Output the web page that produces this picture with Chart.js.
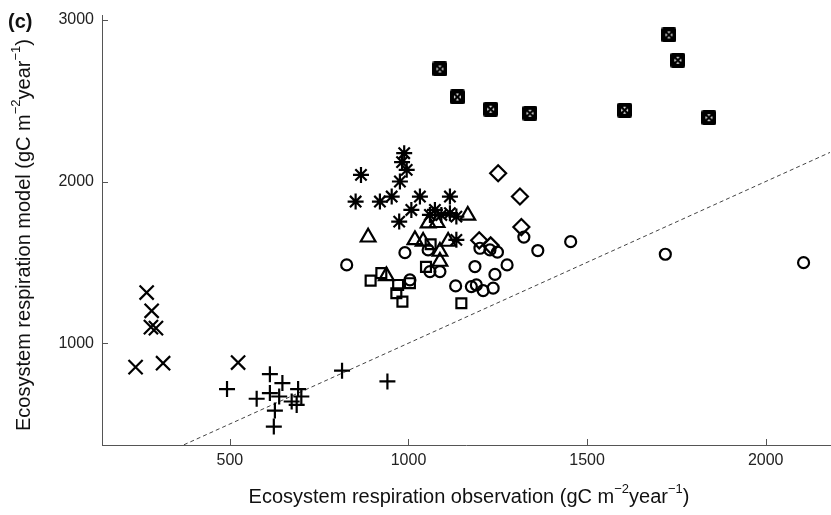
<!DOCTYPE html>
<html>
<head>
<meta charset="utf-8">
<script src="https://cdn.jsdelivr.net/npm/chart.js@4.4.1/dist/chart.umd.min.js"></script>
<style>
  body { margin: 0; background: #fff; }
  canvas { display: block; }
</style>
</head>
<body>
<canvas id="myChart" width="831" height="515"></canvas>
<script>
// values (observation, model)
const boxX = [1088, 1137, 1230, 1340, 1605, 1729, 1754, 1841];
const boxY = [2696, 2523, 2447, 2422, 2441, 2907, 2750, 2395];

const xmarkX = [267, 281, 279, 293, 236, 313, 523];
const xmarkY = [1313, 1200, 1099, 1093, 852, 876, 880];

const plusX = [492, 612, 647, 575, 612, 638, 691, 700, 673, 687, 626, 623, 814, 941];
const plusY = [716, 808, 753, 656, 691, 670, 716, 670, 639, 618, 583, 484, 830, 763];

const starX = [988, 982, 995, 976, 867, 852, 920, 953, 1032, 1116, 1008, 974, 1074, 1092, 1116, 1060, 1134, 1134];
const starY = [2175, 2120, 2072, 2000, 2041, 1876, 1876, 1907, 1907, 1907, 1824, 1752, 1824, 1793, 1804, 1793, 1783, 1639];

const triX = [887, 1166, 1055, 1080, 1018, 1041, 1111, 1088, 1088, 938];
const triY = [1655, 1790, 1742, 1745, 1639, 1629, 1629, 1567, 1505, 1416];

const sqX = [894, 924, 971, 1004, 966, 983, 1049, 1148, 1062];
const sqY = [1387, 1433, 1360, 1371, 1309, 1257, 1472, 1247, 1612];

const circX = [827, 990, 1055, 1060, 1088, 1004, 1200, 1228, 1249, 1186, 1242, 1276, 1132, 1176, 1190, 1209, 1237, 1323, 1362, 1454, 1719, 2106];
const circY = [1484, 1560, 1577, 1443, 1443, 1391, 1587, 1577, 1563, 1474, 1425, 1484, 1354, 1350, 1360, 1325, 1340, 1656, 1573, 1628, 1550, 1498];

const diaX = [1251, 1312, 1316, 1198, 1230];
const diaY = [2051, 1907, 1718, 1636, 1605];

const xTicks = [500, 1000, 1500, 2000];
const yTicks = [1000, 2000, 3000];

const FONT = '"Liberation Sans", Arial, sans-serif';

function pts(xs, ys) {
    return xs.map((x, i) => ({ x: x, y: ys[i] }));
}

// filled square marker with small white marks
function boxMarker() {
    const c = document.createElement('canvas');
    c.width = 15; c.height = 15;
    const g = c.getContext('2d');
    g.fillStyle = '#000';
    g.beginPath();
    g.roundRect(0, 0, 15, 15, 2);
    g.fill();
    g.fillStyle = '#fff';
    g.beginPath(); g.moveTo(6, 4); g.lineTo(9, 4); g.lineTo(7.5, 6); g.fill();
    g.beginPath(); g.moveTo(6, 11); g.lineTo(9, 11); g.lineTo(7.5, 9); g.fill();
    g.beginPath(); g.moveTo(4, 6); g.lineTo(4, 9); g.lineTo(6, 7.5); g.fill();
    g.beginPath(); g.moveTo(11, 6); g.lineTo(11, 9); g.lineTo(9, 7.5); g.fill();
    return c;
}

function mk(xs, ys, style, r) {
    return {
        type: 'scatter',
        data: pts(xs, ys),
        pointStyle: style,
        pointRadius: r,
        pointHoverRadius: r,
        borderColor: '#000',
        backgroundColor: 'rgba(0,0,0,0)',
        pointBorderWidth: 2.2,
        order: 0
    };
}

// draws text with superscripts
function richText(ctx, parts, cx, cy, size) {
    const small = Math.round(size * 0.65);
    let w = 0;
    parts.forEach(p => {
        ctx.font = (p[1] ? small : size) + 'px ' + FONT;
        w += ctx.measureText(p[0]).width;
    });
    let x = cx - w / 2;
    parts.forEach(p => {
        ctx.font = (p[1] ? small : size) + 'px ' + FONT;
        ctx.fillText(p[0], x, p[1] ? cy - size * 0.4 : cy);
        x += ctx.measureText(p[0]).width;
    });
}

const decor = {
    id: 'decor',
    afterDraw(chart) {
        const ctx = chart.ctx;
        const xs = chart.scales.x, ys = chart.scales.y;
        const a = chart.chartArea;
        ctx.save();
        // inward ticks
        ctx.strokeStyle = '#555';
        ctx.lineWidth = 1;
        ctx.beginPath();
        xTicks.forEach(v => {
            const p = Math.round(xs.getPixelForValue(v)) + 0.5;
            ctx.moveTo(p, a.bottom); ctx.lineTo(p, a.bottom - 6);
        });
        yTicks.forEach(v => {
            const p = Math.round(ys.getPixelForValue(v)) + 0.5;
            ctx.moveTo(a.left, p); ctx.lineTo(a.left + 6, p);
        });
        ctx.stroke();

        ctx.fillStyle = '#111';
        ctx.textBaseline = 'middle';
        ctx.textAlign = 'left';
        richText(ctx, [['Ecosystem respiration observation (gC m', 0], ['\u22122', 1], ['year', 0], ['\u22121', 1], [')', 0]],
            469, 497, 20);

        ctx.save();
        ctx.translate(24, (a.top + a.bottom) / 2 + 5);
        ctx.rotate(-Math.PI / 2);
        richText(ctx, [['Ecosystem respiration model (gC m', 0], ['\u22122', 1], ['year', 0], ['\u22121', 1], [')', 0]],
            0, 0, 20);
        ctx.restore();

        ctx.font = 'bold 20px ' + FONT;
        ctx.fillText('(c)', 8, 22);
        ctx.restore();
    }
};

const ctx = document.getElementById('myChart').getContext('2d');
new Chart(ctx, {
    data: {
        datasets: [
            {
                type: 'line',
                data: [{ x: 300, y: 300 }, { x: 2200, y: 2200 }],
                borderColor: '#444',
                borderWidth: 1,
                borderDash: [4, 3],
                pointRadius: 0,
                order: 10
            },
            mk(circX, circY, 'circle', 5.5),
            mk(sqX, sqY, 'rect', 7),
            mk(triX, triY, 'triangle', 8.5),
            mk(diaX, diaY, 'rectRot', 8),
            mk(starX, starY, 'star', 8),
            mk(plusX, plusY, 'cross', 8),
            mk(xmarkX, xmarkY, 'crossRot', 10),
            Object.assign(mk(boxX, boxY, boxMarker(), 7), { pointBorderWidth: 0 })
        ]
    },
    options: {
        responsive: false,
        animation: false,
        devicePixelRatio: 1,
        layout: { autoPadding: false, padding: { left: 0, top: 15, right: 1, bottom: 0 } },
        plugins: { legend: { display: false }, tooltip: { enabled: false } },
        scales: {
            x: {
                type: 'linear',
                min: 142,
                max: 2180,
                grid: { display: false, drawTicks: false, tickLength: 0 },
                border: { display: true, color: '#555', width: 1 },
                ticks: { color: '#222', font: { size: 16, family: FONT }, padding: 6, callback: v => String(v) },
                afterBuildTicks: s => { s.ticks = xTicks.map(v => ({ value: v })); },
                afterFit: s => { s.height = 70; s.paddingLeft = 0; s.paddingRight = 0; }
            },
            y: {
                type: 'linear',
                min: 370,
                max: 3030,
                grid: { display: false, drawTicks: false, tickLength: 0 },
                border: { display: true, color: '#555', width: 1 },
                ticks: { color: '#222', font: { size: 16, family: FONT }, padding: 8, callback: v => String(v) },
                afterBuildTicks: s => { s.ticks = yTicks.map(v => ({ value: v })); },
                afterFit: s => { s.width = 102; s.paddingTop = 0; s.paddingBottom = 0; }
            }
        }
    },
    plugins: [decor]
});
</script>
</body>
</html>
